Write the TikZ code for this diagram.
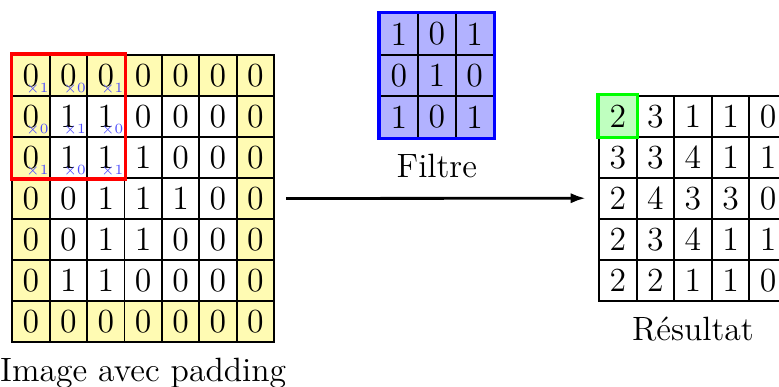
\documentclass[tikz,border=0pt]{standalone}
\usepackage{fontspec}
\usetikzlibrary{positioning,arrows.meta,calc}

\begin{document}
\begin{tikzpicture}[
  x=0.01502cm, y=-0.01502cm,
  font=\Large,
  cell/.style={rectangle, draw, thick, minimum width=0.563cm, minimum height=0.617cm,
    inner sep=0pt},
  pad/.style={cell, fill=yellow!30},
  kernel/.style={cell, fill=blue!30, minimum width=0.569cm, minimum height=0.623cm},
  weight/.style={font=\fontsize{6}{7}\selectfont, text=blue!70, inner sep=0.8pt,
    anchor=south east},
  frame/.style={line width=1.4pt},
  node distance=0.11cm,
]
  \useasboundingbox (0,0) rectangle (779,387);

  % Image avec padding
  \foreach \row [count=\r from 0] in {{0,0,0,0,0,0,0},{0,1,1,0,0,0,0},{0,1,1,1,0,0,0},
      {0,0,1,1,1,0,0},{0,0,1,1,0,0,0},{0,1,1,0,0,0,0},{0,0,0,0,0,0,0}} {
    \foreach \v [count=\c from 0] in \row {
      \pgfmathtruncatemacro\ispad{(\r==0)||(\r==6)||(\c==0)||(\c==6)}
      \ifnum\ispad=1 \def\sty{pad}\else\def\sty{cell}\fi
      \node[\sty] (img-\r-\c) at ({12.3+37.4*(\c+0.5)}, {55+41*(\r+0.5)}) {\v};
    }
  }
  \draw[frame, red] (img-0-0.north west) rectangle (img-2-2.south east);
  \foreach \r/\c/\w in {0/0/1, 0/1/0, 0/2/1, 1/0/0, 1/1/1, 1/2/0, 2/0/1, 2/1/0, 2/2/1}
    \node[weight] at (img-\r-\c.south east) {$\times$\w};
  \node[below=of img-6-3] (img-label) {Image avec padding};

  % Filtre
  \foreach \row [count=\r from 0] in {{1,0,1},{0,1,0},{1,0,1}} {
    \foreach \v [count=\c from 0] in \row
      \node[kernel] (ker-\r-\c) at ({380+37.9*(\c+0.5)}, {13.3+41.5*(\r+0.5)}) {\v};
  }
  \draw[frame, blue] (ker-0-0.north west) rectangle (ker-2-2.south east);
  \node[below=of ker-2-1] (ker-label) {Filtre};

  % Resultat
  \foreach \row [count=\r from 0] in {{2,3,1,1,0},{3,3,4,1,1},{2,4,3,3,0},{2,3,4,1,1},{2,2,1,1,0}} {
    \foreach \v [count=\c from 0] in \row
      \node[cell] (res-\r-\c) at ({599+37.6*(\c+0.5)}, {95.7+41*(\r+0.5)}) {\v};
  }
  \draw[frame, green, fill=green!25] (res-0-0.north west) rectangle (res-0-0.south east);
  \node at (res-0-0) {2};
  \node[below=of res-4-2] (res-label) {Résultat};

  % Convolution
  \draw[-{Latex[length=6.4pt, width=4.4pt]}, very thick, shorten <=4.7pt, shorten >=5.3pt]
    (img-3-6.east) -- (res-2-0.west);
\end{tikzpicture}
\end{document}
